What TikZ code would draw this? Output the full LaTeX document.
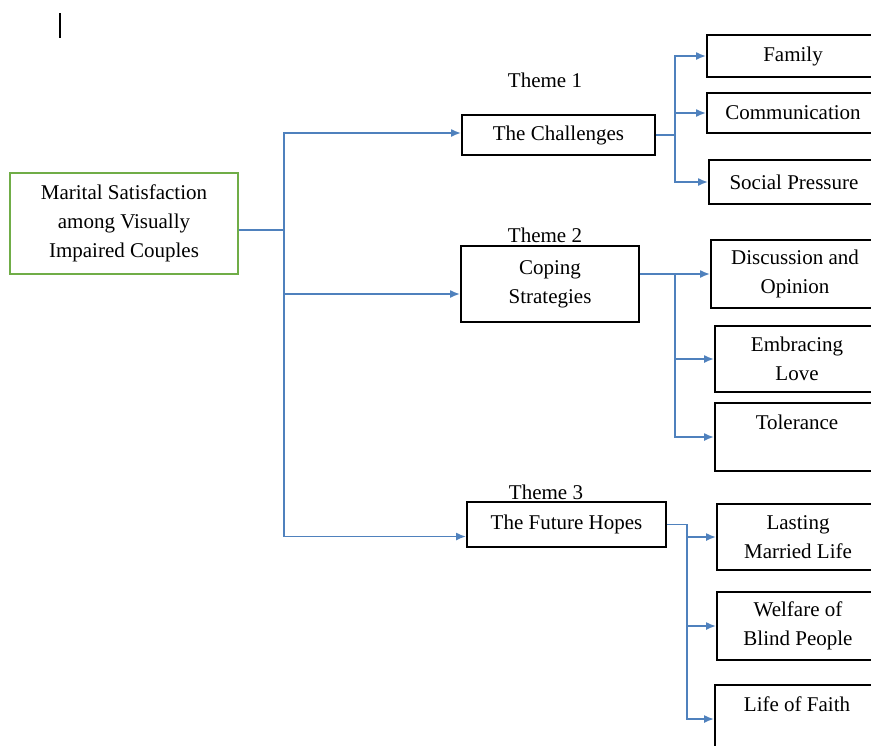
\documentclass[tikz,border=0pt]{standalone}
\usepackage{fontspec}
\setmainfont{Liberation Serif}
\usetikzlibrary{arrows.meta}
\definecolor{linkblue}{RGB}{79,129,189}
\definecolor{rootgreen}{RGB}{112,173,71}
\begin{document}
\begin{tikzpicture}[x = 0.5pt, y = -0.5pt,
        every node/.append style = {font = \fontsize{10.5}{14.5}\selectfont, align = center},
        box/.style = {draw, line width = 0.9pt, inner sep = 0pt},
        link/.style = {draw = linkblue, line width = 0.9pt, -{Latex[length = 5pt, width = 4pt]}}]
    \useasboundingbox (0,0) rectangle (871,745);
    \clip (0,0) rectangle (871,745);
    \draw[line width = 1pt] (60,13) -- (60,38);
    % root and themes
    \node[box, draw = rootgreen, minimum width = 114pt, minimum height = 50.5pt] (root) at (124,223.5) {Marital Satisfaction\\among Visually\\Impaired Couples};
    \node[box, minimum width = 96.5pt, minimum height = 20pt] (ch) at (558.5,135) {The Challenges};
    \node[box, minimum width = 89pt, minimum height = 38pt] (cp) at (550,284) {Coping\\Strategies};
    \node[box, minimum width = 99.5pt, minimum height = 22.5pt] (fu) at (566.5,524.5) {The Future Hopes};
    \node (t1) at (545,80) {Theme 1};
    \node (t2) at (545,235) {Theme 2};
    \node (t3) at (546,492) {Theme 3};
    % sub-themes
    \node[box, minimum width = 86pt, minimum height = 21pt] (fam) at (793,56) {Family};
    \node[box, minimum width = 86pt, minimum height = 20pt] (com) at (793,113) {Communication};
    \node[box, minimum width = 85pt, minimum height = 22pt] (soc) at (794,182) {Social Pressure};
    \node[box, minimum width = 84pt, minimum height = 34pt] (dis) at (795,274) {Discussion and\\Opinion};
    \node[box, minimum width = 82pt, minimum height = 33pt] (emb) at (797,359) {Embracing\\Love};
    \node[box, minimum width = 82pt, minimum height = 34pt] (tol) at (797,437) {Tolerance\\\mbox{}};
    \node[box, minimum width = 81pt, minimum height = 33pt] (las) at (798,537) {Lasting\\Married Life};
    \node[box, minimum width = 81pt, minimum height = 34pt] (wel) at (798,626) {Welfare of\\Blind People};
    \node[box, minimum width = 82pt, minimum height = 34pt] (fai) at (797,719) {Life of Faith\\\mbox{}};
    % connectors
    \coordinate (j0) at (284,0);
    \coordinate (j1) at (675,0);
    \coordinate (j3) at (687,0);
    \coordinate (r0) at ([yshift = -3.25pt]root.east);
    \coordinate (c0) at ([yshift = 5pt]cp.east);
    \foreach \t/\s in {ch/1pt, cp/-5pt, fu/-6pt}
        \draw[link] (r0) -- (r0 -| j0) |- ([yshift = \s]\t.west);
    \foreach \c in {fam, com, soc}
        \draw[link] (ch.east) -- (ch.east -| j1) |- (\c.west);
    \foreach \c in {dis, emb, tol}
        \draw[link] (c0) -- (c0 -| j1) |- (\c.west);
    \foreach \c in {las, wel, fai}
        \draw[link] (fu.east) -- (fu.east -| j3) |- (\c.west);
\end{tikzpicture}
\end{document}
